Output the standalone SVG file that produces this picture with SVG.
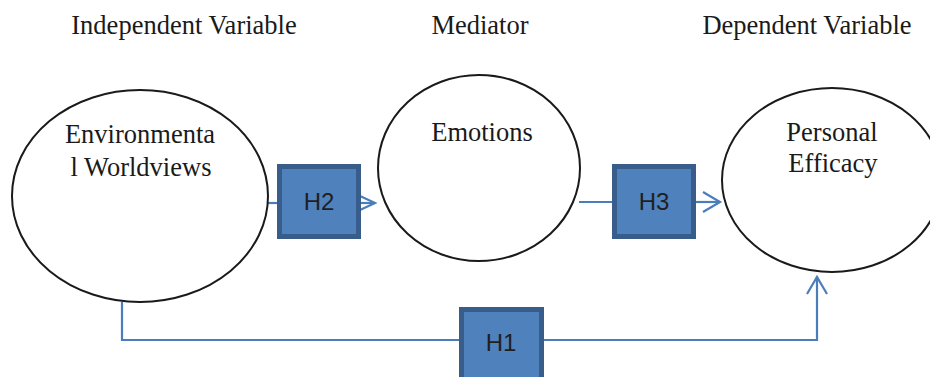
<svg xmlns="http://www.w3.org/2000/svg" width="930" height="377" viewBox="0 0 930 377">
<defs>
<style>
.ttl{font-family:"Liberation Serif","Times New Roman",serif;font-size:26.5px;fill:#1a1a1a;text-anchor:middle}
.ell{fill:#fff;stroke:#1a1a1a;stroke-width:2}
.box{fill:#4f81bd;stroke:#385d8a;stroke-width:5}
.hl{font-family:"Liberation Sans",Arial,sans-serif;font-size:24px;fill:#1f1f1f;text-anchor:middle}
.con{fill:none;stroke:#4a7ebb;stroke-width:2.2}
</style>
<marker id="arr" markerUnits="userSpaceOnUse" markerWidth="24" markerHeight="24" viewBox="-20 -12 24 24" refX="0" refY="0" orient="auto">
<path d="M-17,-10 L0,0 L-17,10" fill="none" stroke="#4a7ebb" stroke-width="2.2"/>
</marker>
<marker id="arrs" markerUnits="userSpaceOnUse" markerWidth="24" markerHeight="24" viewBox="-20 -12 24 24" refX="0" refY="0" orient="auto">
<path d="M-15,-7 L0,0 L-15,7" fill="none" stroke="#4a7ebb" stroke-width="2.2"/>
</marker>
</defs>
<rect width="930" height="377" fill="#fff"/>
<g id="headers">
<text class="ttl" x="184" y="34">Independent Variable</text>
<text class="ttl" x="480" y="34">Mediator</text>
<text class="ttl" x="807" y="34">Dependent Variable</text>
</g>
<g id="connectors">
<line class="con" x1="268" y1="203" x2="279" y2="203"/>
<line class="con" x1="359" y1="203" x2="375" y2="203" marker-end="url(#arrs)"/>
<line class="con" x1="579" y1="202" x2="614" y2="202"/>
<line class="con" x1="694" y1="202" x2="720" y2="202" marker-end="url(#arr)"/>
<polyline class="con" points="122,302 122,340 461,340"/>
<polyline class="con" points="542,340 817,340 817,277" marker-end="url(#arr)"/>
</g>
<g id="environmental-worldviews">
<ellipse class="ell" cx="140" cy="196" rx="128" ry="106"/>
<text class="ttl" x="140" y="143">Environmenta</text>
<text class="ttl" x="141" y="176">l Worldviews</text>
</g>
<g id="emotions">
<ellipse class="ell" cx="479" cy="168" rx="101" ry="93"/>
<text class="ttl" x="482" y="141">Emotions</text>
</g>
<g id="personal-efficacy">
<ellipse class="ell" cx="832" cy="180" rx="110" ry="92"/>
<text class="ttl" x="832" y="141">Personal</text>
<text class="ttl" x="833" y="172">Efficacy</text>
</g>
<g id="h2">
<rect class="box" x="279.5" y="166.5" width="79" height="70"/>
<text class="hl" x="319" y="210">H2</text>
</g>
<g id="h3">
<rect class="box" x="614.5" y="166.5" width="79" height="70"/>
<text class="hl" x="654" y="210">H3</text>
</g>
<g id="h1">
<rect class="box" x="461.5" y="309.5" width="80" height="70"/>
<text class="hl" x="501" y="351">H1</text>
</g>
</svg>
